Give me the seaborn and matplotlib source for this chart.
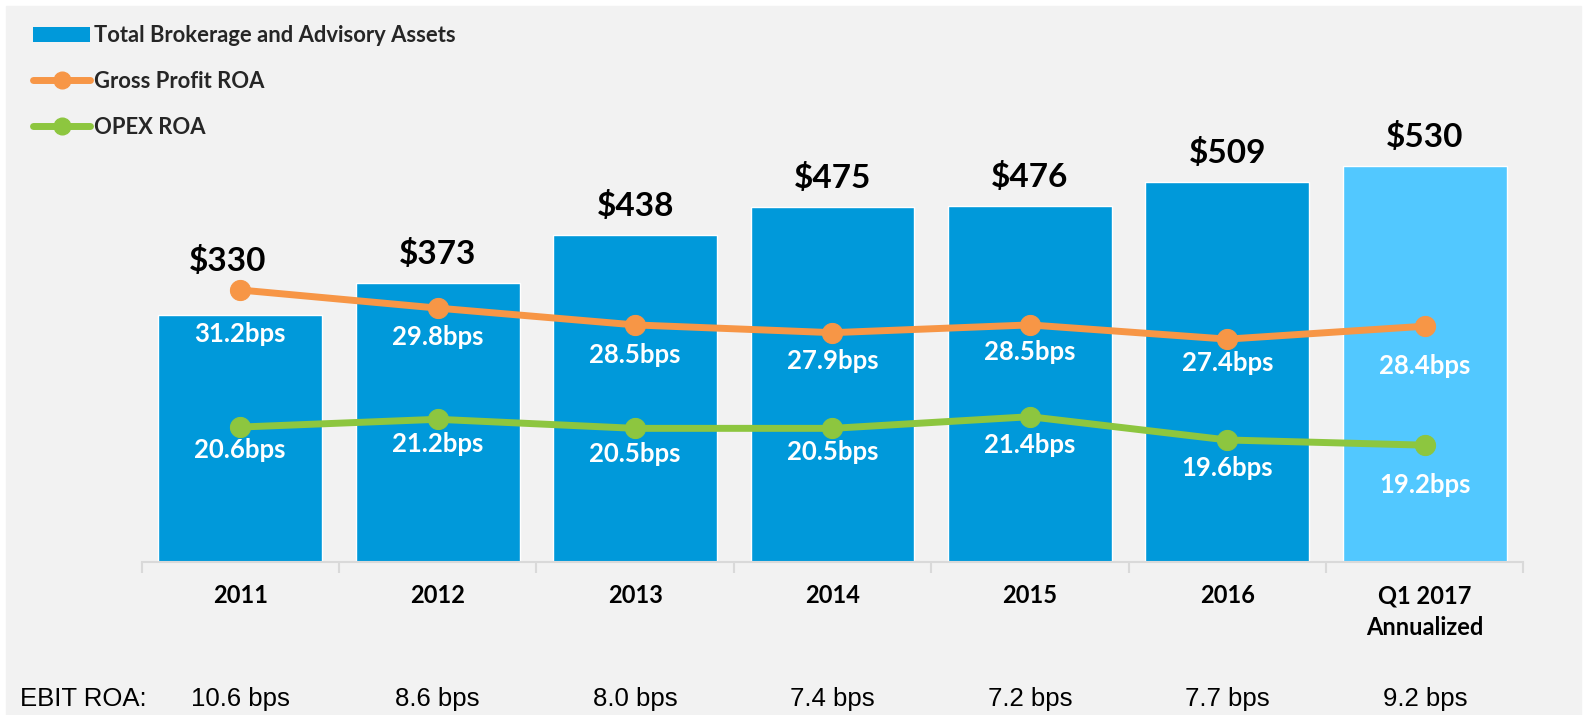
import matplotlib
matplotlib.use("Agg")
import matplotlib.pyplot as plt
from matplotlib.patches import Rectangle, Patch
from matplotlib.lines import Line2D
import seaborn as sns
import numpy as np
import pandas as pd

# data
categories = ["2011", "2012", "2013", "2014", "2015", "2016", "Q1 2017\nAnnualized"]
assets = [330, 373, 438, 475, 476, 509, 530]
gross_roa = [31.2, 29.8, 28.5, 27.9, 28.5, 27.4, 28.4]
opex_roa = [20.6, 21.2, 20.5, 20.5, 21.4, 19.6, 19.2]
ebit_roa = [10.6, 8.6, 8.0, 7.4, 7.2, 7.7, 9.2]

# label placement tweaks (px): bps labels below their marker, $ labels sideways
gross_lbl_off = [44, 29, 30, 28, 27, 24, 40]
opex_lbl_off = [23, 25, 26, 24, 28, 28, 40]
value_lbl_dx = [-13, 0, 0, 0, 0, 0, 0]

blue = "#0099DA"
light_blue = "#52C8FF"
orange = "#F79646"
green = "#8DC63F"
bg = "#F2F2F2"

sns.set_theme(style="white")
plt.rcParams["font.family"] = ["Lato", "DejaVu Sans"]

df = pd.DataFrame({"cat": categories, "assets": assets,
                   "gross": gross_roa, "opex": opex_roa})
x = np.arange(len(categories))

W, H = 1583, 715
fig = plt.figure(figsize=(W / 100, H / 100), dpi=100, facecolor="white")
fig.patches.append(Rectangle((6 / W, 0), 1575 / W, 709 / H,
                             transform=fig.transFigure, color=bg, zorder=-10))

ax = fig.add_axes([141.5 / W, 153 / H, 1382 / W, 552 / H])
ax.set_facecolor("none")
bar_colors = [blue] * (len(categories) - 1) + [light_blue]
sns.barplot(data=df, x="cat", y="assets", hue="cat", palette=bar_colors,
            legend=False, width=0.83, saturation=1, ax=ax)
ax.set_ylim(0, 552 / 0.7475)
ax.set_xlim(-0.5, len(categories) - 0.5)

ax2 = ax.twinx()
ax2.set_ylim(31.2 - 272 / 12.93, 31.2 + 280 / 12.93)
sns.lineplot(x=x, y=df["gross"], color=orange, lw=5, marker="o", ms=14.5,
             mec=orange, sort=False, ax=ax2)
sns.lineplot(x=x, y=df["opex"], color=green, lw=5, marker="o", ms=14.5,
             mec=green, sort=False, ax=ax2)
ax2.set_xlim(-0.5, len(categories) - 0.5)

for a in (ax, ax2):
    a.set_yticks([])
    a.set_ylabel("")
    a.set_xlabel("")
    for s in ("top", "left", "right"):
        a.spines[s].set_visible(False)
ax2.spines["bottom"].set_visible(False)
ax.spines["bottom"].set_color("#D9D9D9")
ax.spines["bottom"].set_linewidth(1.5)

ax.set_xticks(x)
ax.set_xticklabels(categories, fontsize=17, fontweight="bold", color="black",
                   linespacing=1.46)
ax.set_xticks(np.arange(len(categories) + 1) - 0.5, minor=True)
ax.tick_params(axis="x", which="major", length=0, pad=16)
ax.tick_params(axis="x", which="minor", length=8, width=1.5, color="#D9D9D9",
               direction="out", bottom=True)

# value labels above bars (lifted over the orange marker where it sits higher)
to_left = ax.transData.inverted()
for i, v in enumerate(assets):
    marker_y = to_left.transform(ax2.transData.transform((i, gross_roa[i])))[1]
    base = max(v, marker_y)
    ax.annotate(f"${v}", (i, base), xytext=(value_lbl_dx[i] * 0.72, 10),
                textcoords="offset points", ha="center", va="bottom",
                fontsize=24, fontweight="bold", color="black")

for i in range(len(categories)):
    ax2.annotate(f"{gross_roa[i]}bps", (i, gross_roa[i]),
                 xytext=(0, -gross_lbl_off[i] * 0.72),
                 textcoords="offset points", ha="center", va="center",
                 fontsize=18.5, fontweight="bold", color="white")
    ax2.annotate(f"{opex_roa[i]}bps", (i, opex_roa[i]),
                 xytext=(0, -opex_lbl_off[i] * 0.72),
                 textcoords="offset points", ha="center", va="center",
                 fontsize=18.5, fontweight="bold", color="white")

# EBIT row
ebit_y = 1 - 699 / H
fig.text(20 / W, ebit_y, "EBIT ROA:", fontsize=18.5, family="Liberation Sans",
         ha="left", va="center", color="black")
for i, v in enumerate(ebit_roa):
    px = ax.transData.transform((i, 0))[0] / fig.bbox.width
    fig.text(px, ebit_y, f"{v:.1f} bps", fontsize=18.5, family="Liberation Sans",
             ha="center", va="center", color="black")

handles = [
    Patch(facecolor=blue, edgecolor="none", label="Total Brokerage and Advisory Assets"),
    Line2D([], [], color=orange, lw=5, marker="o", ms=12, label="Gross Profit ROA"),
    Line2D([], [], color=green, lw=5, marker="o", ms=12, label="OPEX ROA"),
]
leg = fig.legend(handles=handles, loc="upper left",
                 bbox_to_anchor=(33 / W, 1 - 25 / H), frameon=False,
                 borderpad=0, borderaxespad=0,
                 prop={"weight": "bold", "size": 15.8}, handlelength=2.6,
                 handletextpad=0.2, labelspacing=1.13)

fig.savefig("out.png", dpi=100, facecolor=fig.get_facecolor())
